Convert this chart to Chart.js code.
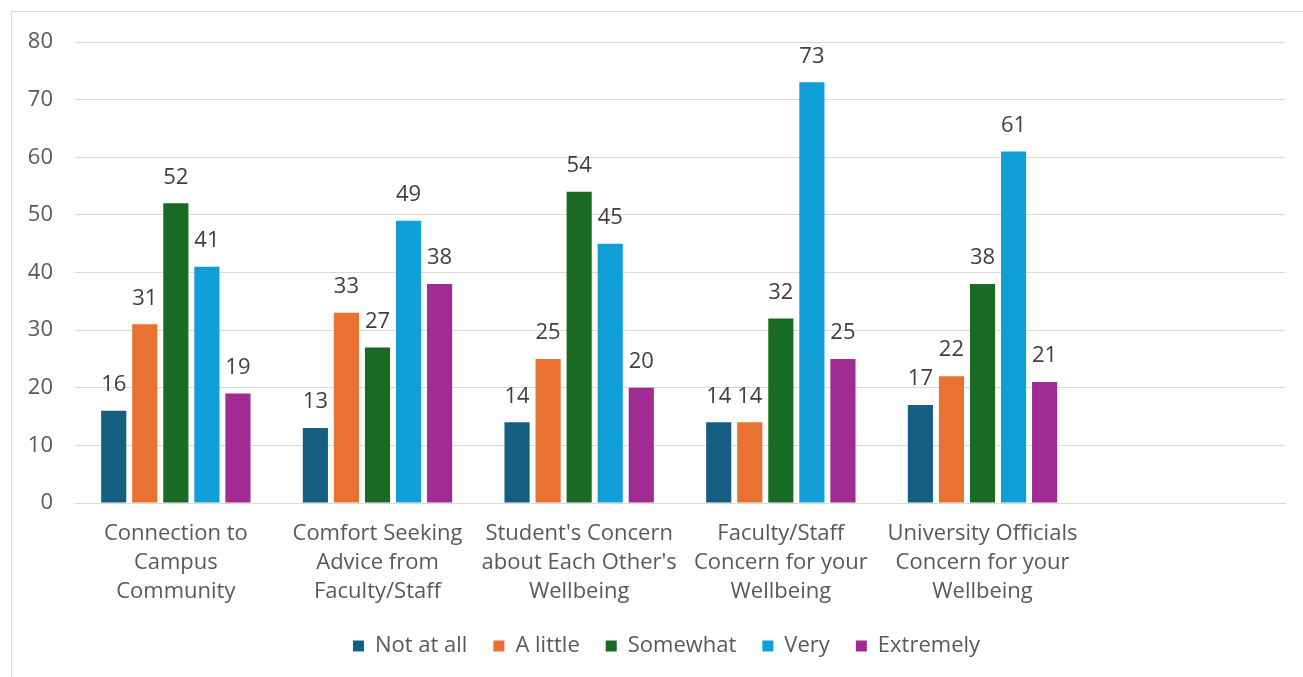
<!DOCTYPE html>
<html>
<head>
<meta charset="utf-8">
<script src="https://cdn.jsdelivr.net/npm/chart.js@4.4.1/dist/chart.umd.min.js"></script>
<style>
  html, body { margin: 0; padding: 0; background: #fff; overflow: hidden; }
  #frame {
    position: absolute; left: 11px; top: 11px; width: 1320px; height: 700px;
    border: 1px solid #d9d9d9;
  }
  #wrap { position: absolute; left: 0; top: 0; width: 1303px; height: 677px; }
</style>
</head>
<body>
<div id="frame"></div>
<div id="wrap"><canvas id="chart"></canvas></div>
<script>
// Categorie (l'ultima vuota come nel grafico originale)
const categories = [
  ['Connection to', 'Campus', 'Community'],
  ['Comfort Seeking', 'Advice from', 'Faculty/Staff'],
  ["Student's Concern", "about Each Other's", 'Wellbeing'],
  ['Faculty/Staff', 'Concern for your', 'Wellbeing'],
  ['University Officials', 'Concern for your', 'Wellbeing'],
  ''
];

// Serie
const seriesNames = ['Not at all', 'A little', 'Somewhat', 'Very', 'Extremely'];
const notAtAll  = [16, 13, 14, 14, 17, null];
const aLittle   = [31, 33, 25, 14, 22, null];
const somewhat  = [52, 27, 54, 32, 38, null];
const very      = [41, 49, 45, 73, 61, null];
const extremely = [19, 38, 20, 25, 21, null];
const seriesColors = ['#156082', '#E97132', '#196B24', '#0F9ED5', '#A02B93'];

// Asse Y
const yMin = 0;
const yMax = 80;
const yStep = 10;

const FONT = "'Open Sans', sans-serif";

// Etichette dei valori sopra le barre
const valueLabels = {
  id: 'valueLabels',
  afterDatasetsDraw(chart) {
    const ctx = chart.ctx;
    ctx.save();
    ctx.font = '22px ' + FONT;
    ctx.fillStyle = '#404040';
    ctx.textAlign = 'center';
    ctx.textBaseline = 'middle';
    chart.data.datasets.forEach((ds, i) => {
      const meta = chart.getDatasetMeta(i);
      meta.data.forEach((bar, j) => {
        const v = ds.data[j];
        if (v === null || v === undefined) return;
        ctx.fillText(String(v), bar.x, bar.y - 26);
      });
    });
    ctx.restore();
  }
};

// Sposta la legenda un po' a destra come nell'originale
const legendShift = {
  id: 'legendShift',
  afterLayout(chart) {
    if (chart.legend) {
      chart.legend.left += 24;
      chart.legend.right += 24;
    }
  }
};

const allSeries = [notAtAll, aLittle, somewhat, very, extremely];

const ctx = document.getElementById('chart').getContext('2d');
new Chart(ctx, {
  type: 'bar',
  data: {
    labels: categories,
    datasets: allSeries.map((vals, i) => ({
      label: seriesNames[i],
      data: vals,
      backgroundColor: seriesColors[i],
      borderWidth: 0,
      categoryPercentage: 0.77,
      barPercentage: 0.81
    }))
  },
  options: {
    responsive: true,
    maintainAspectRatio: false,
    animation: false,
    layout: { padding: { top: 42, right: 18, bottom: 10, left: 0 } },
    scales: {
      x: {
        grid: { display: false, drawTicks: false },
        border: { display: true, color: '#d9d9d9', width: 1 },
        ticks: {
          color: '#595959',
          font: { family: FONT, size: 22, lineHeight: 1.32 },
          padding: 16,
          maxRotation: 0,
          autoSkip: false
        },
        afterFit(scale) { scale.height = 106; }
      },
      y: {
        min: yMin,
        max: yMax,
        grid: { color: '#d9d9d9', lineWidth: 1, drawTicks: false },
        border: { display: false },
        ticks: {
          stepSize: yStep,
          color: '#595959',
          font: { family: FONT, size: 22 },
          padding: 22
        },
        afterFit(scale) { scale.width = 75; }
      }
    },
    plugins: {
      legend: {
        position: 'bottom',
        labels: {
          color: '#595959',
          font: { family: FONT, size: 22 },
          boxWidth: 11,
          boxHeight: 11,
          padding: 26
        }
      },
      tooltip: { enabled: false }
    }
  },
  plugins: [valueLabels, legendShift]
});
</script>
</body>
</html>
